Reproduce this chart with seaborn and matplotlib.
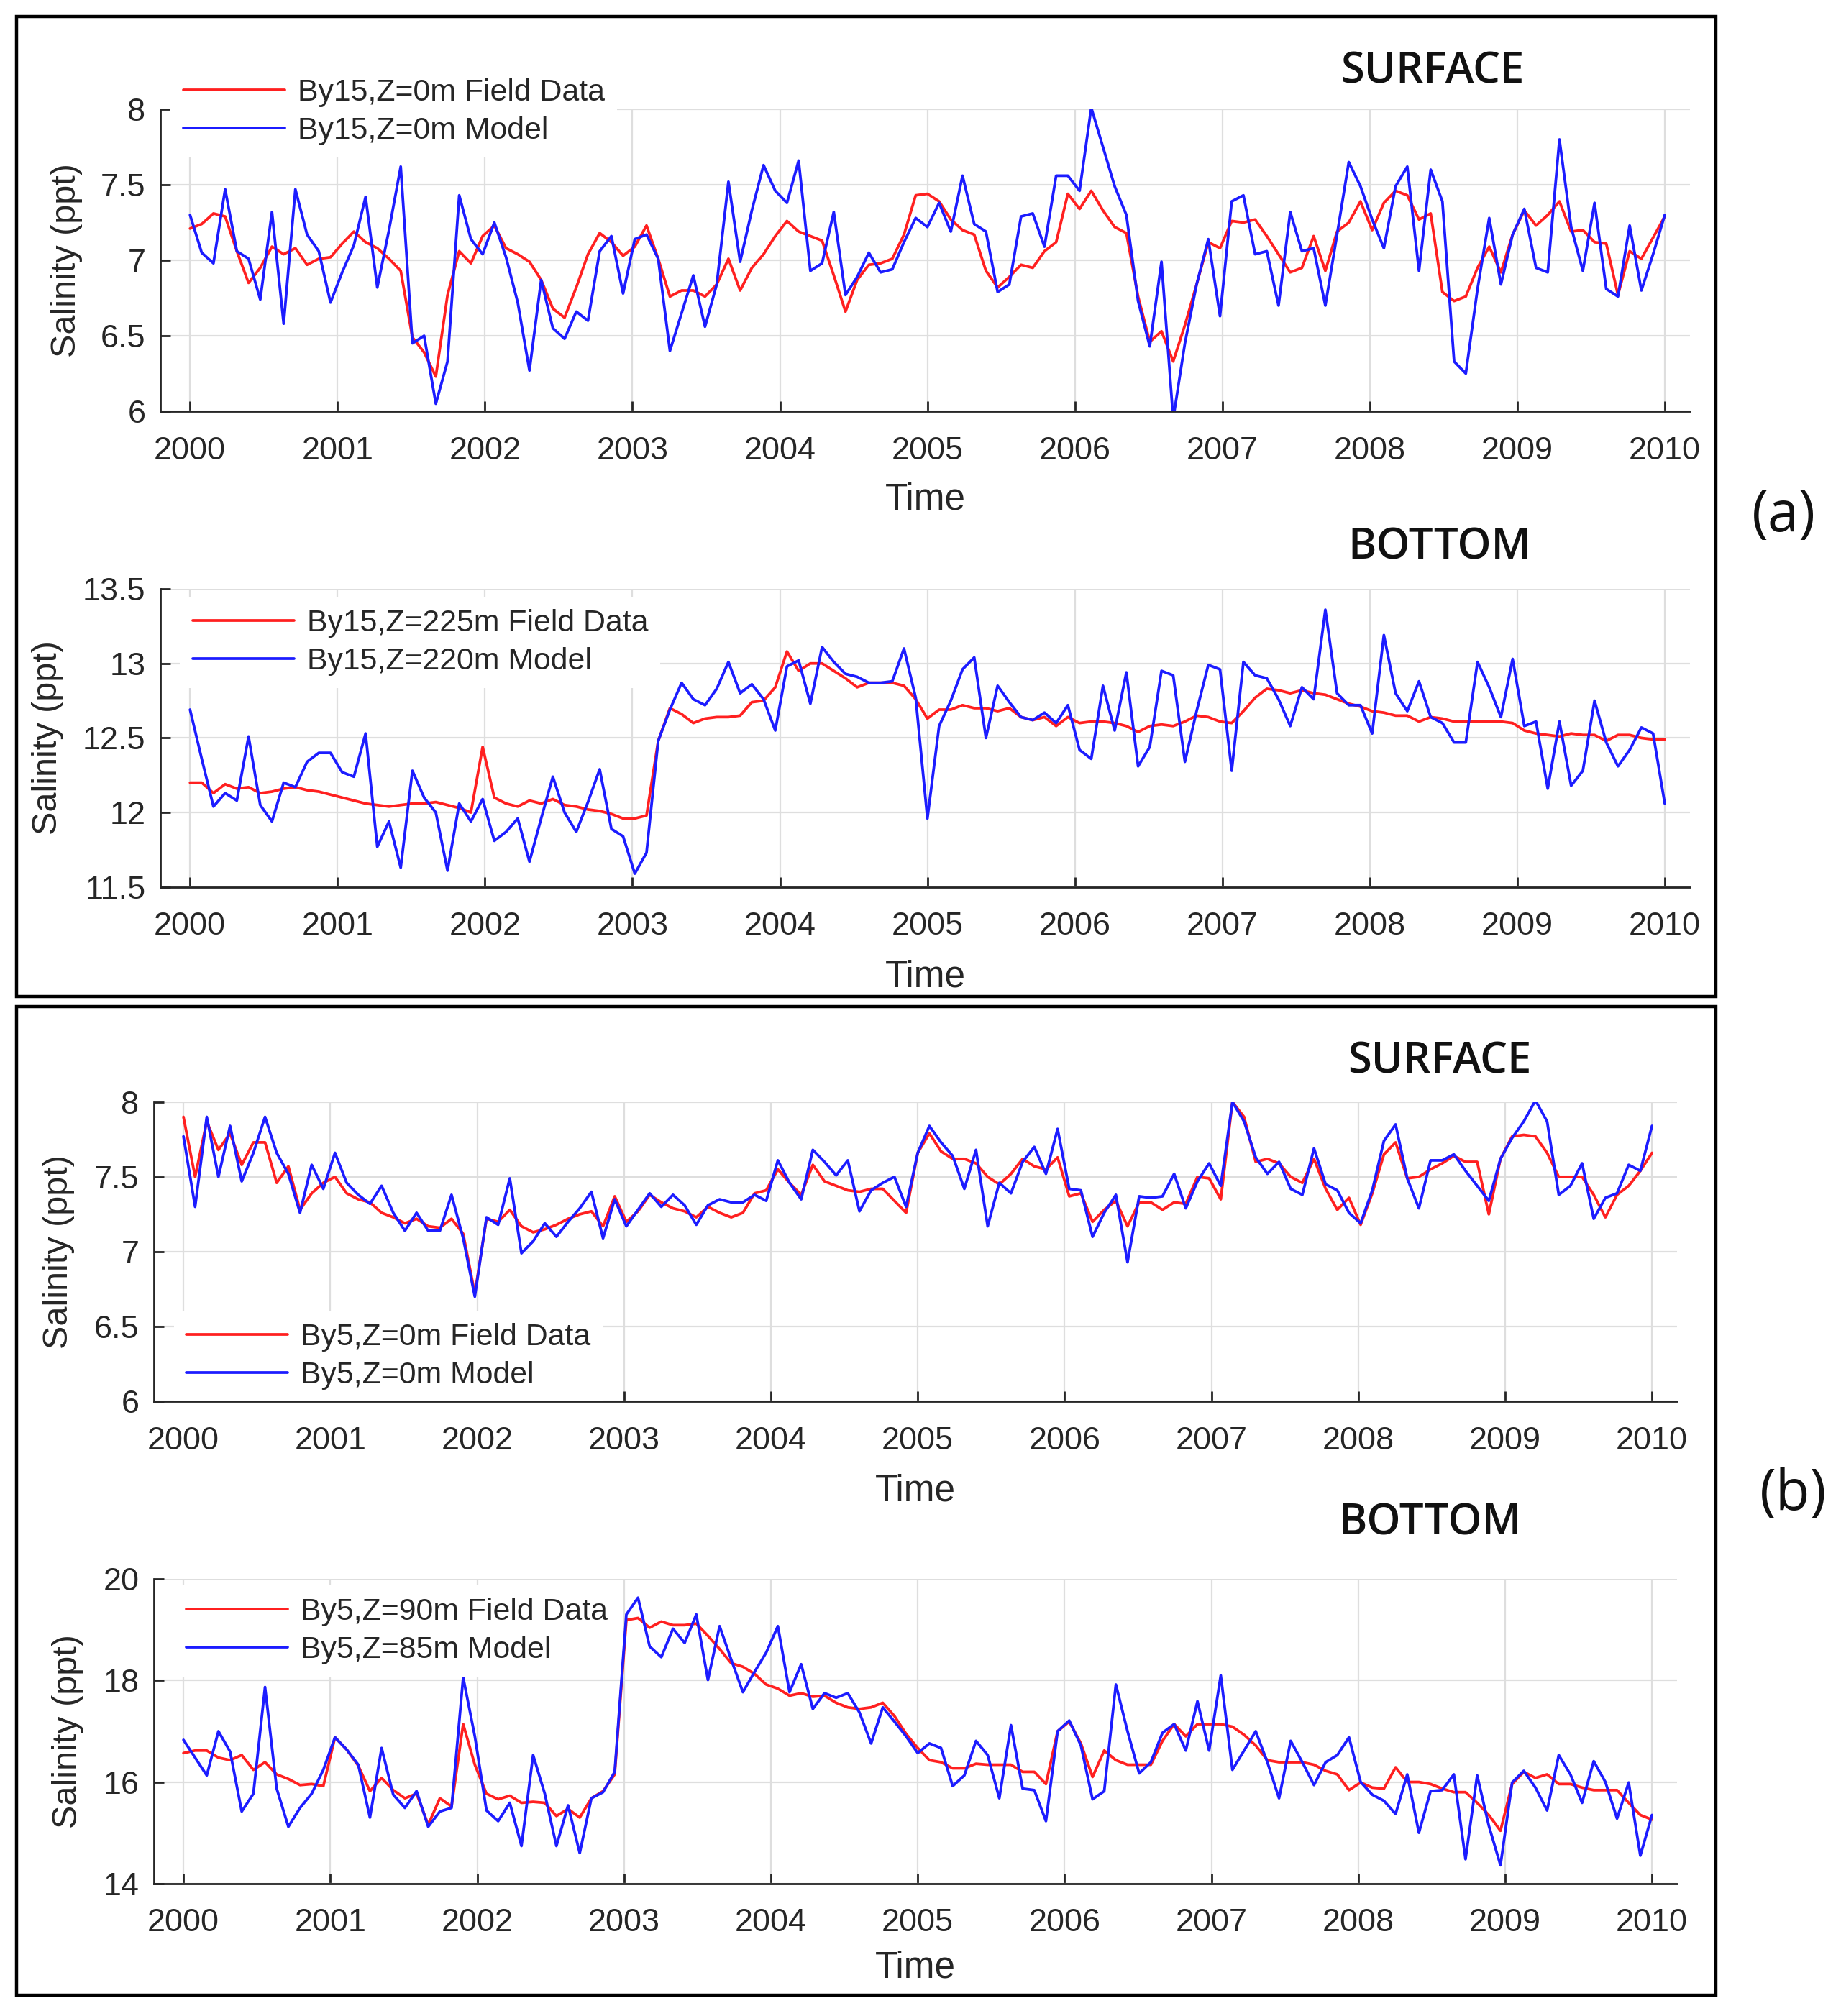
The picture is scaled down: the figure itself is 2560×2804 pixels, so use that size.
import numpy as np
import pandas as pd
import matplotlib
matplotlib.use('Agg')
from matplotlib import pyplot as plt
from matplotlib.patches import Rectangle
from matplotlib.ticker import FormatStrFormatter
import seaborn as sns

# ---- (a) By15 surface ----
by15_surf_field = [7.21, 7.24, 7.31, 7.29, 7.06, 6.85, 6.95, 7.09, 7.04, 7.08, 6.97, 7.01, 7.02,
                   7.11, 7.19, 7.12, 7.08, 7.01, 6.93, 6.49, 6.39, 6.23, 6.77, 7.06, 6.98,
                   7.16, 7.23, 7.08, 7.04, 6.99, 6.87, 6.68, 6.62, 6.82, 7.04, 7.18, 7.12,
                   7.03, 7.09, 7.23, 7.01, 6.76, 6.80, 6.80, 6.76, 6.84, 7.01, 6.80, 6.95, 7.04,
                   7.16, 7.26, 7.19, 7.16, 7.13, 6.90, 6.66, 6.87, 6.97, 6.98, 7.01, 7.17, 7.43, 7.44,
                   7.39, 7.27, 7.20, 7.17, 6.93, 6.82, 6.89, 6.97, 6.95, 7.06, 7.12, 7.44, 7.34,
                   7.46, 7.33, 7.22, 7.18, 6.76, 6.46, 6.53, 6.33, 6.57, 6.84, 7.12, 7.08, 7.26,
                   7.25, 7.27, 7.16, 7.04, 6.92, 6.95, 7.16, 6.93, 7.19, 7.25, 7.39, 7.20, 7.38,
                   7.46, 7.43, 7.27, 7.31, 6.79, 6.73, 6.76, 6.95, 7.09, 6.92, 7.17, 7.33, 7.23,
                   7.30, 7.39, 7.19, 7.20, 7.12, 7.11, 6.77, 7.06, 7.01, 7.15, 7.29]
by15_surf_model = [7.30, 7.05, 6.98, 7.47, 7.06, 7.01, 6.74, 7.32, 6.58, 7.47, 7.17, 7.06, 6.72,
                   6.92, 7.10, 7.42, 6.82, 7.20, 7.62, 6.45, 6.50, 6.05, 6.33, 7.43, 7.14,
                   7.04, 7.25, 7.02, 6.72, 6.27, 6.87, 6.55, 6.48, 6.66, 6.60, 7.06, 7.16,
                   6.78, 7.14, 7.17, 7.01, 6.40, 6.65, 6.90, 6.56, 6.84, 7.52, 6.99, 7.33,
                   7.63, 7.46, 7.38, 7.66, 6.93, 6.98, 7.32, 6.77, 6.89, 7.05, 6.92, 6.94, 7.12, 7.28, 7.22,
                   7.38, 7.19, 7.56, 7.24, 7.19, 6.79, 6.84, 7.29, 7.31, 7.09, 7.56, 7.56, 7.46,
                   8.01, 7.75, 7.49, 7.30, 6.73, 6.43, 6.99, 5.95, 6.45, 6.84, 7.14, 6.63, 7.39,
                   7.43, 7.04, 7.06, 6.70, 7.32, 7.06, 7.08, 6.70, 7.17, 7.65, 7.49, 7.27, 7.08,
                   7.49, 7.62, 6.93, 7.60, 7.39, 6.33, 6.25, 6.81, 7.28, 6.84, 7.17, 7.34, 6.95,
                   6.92, 7.80, 7.22, 6.93, 7.38, 6.81, 6.76, 7.23, 6.80, 7.04, 7.30]

# ---- (a) By15 bottom ----
by15_bot_field = [12.20, 12.20, 12.13, 12.19, 12.16, 12.17, 12.13, 12.14, 12.16, 12.17,
                  12.15, 12.14, 12.12, 12.10, 12.08, 12.06, 12.05, 12.04, 12.05, 12.06,
                  12.06, 12.07, 12.05, 12.03, 12.00, 12.44, 12.10, 12.06, 12.04, 12.08,
                  12.06, 12.09, 12.05, 12.04, 12.02, 12.01, 11.99, 11.96, 11.96, 11.98,
                  12.48, 12.70, 12.66, 12.60, 12.63, 12.64, 12.64, 12.65, 12.74, 12.75,
                  12.84, 13.08, 12.95, 13.00, 13.00, 12.95, 12.90, 12.84, 12.87, 12.87,
                  12.87, 12.85, 12.76, 12.63,
                  12.69, 12.69, 12.72, 12.70, 12.70, 12.68, 12.70, 12.64, 12.62, 12.64,
                  12.58, 12.64, 12.60, 12.61, 12.61, 12.60, 12.58, 12.54, 12.58, 12.59,
                  12.58, 12.61, 12.65, 12.64, 12.61, 12.60, 12.68, 12.77, 12.83, 12.82,
                  12.80, 12.82, 12.80, 12.79, 12.76, 12.73, 12.71, 12.68, 12.67, 12.65,
                  12.65, 12.61, 12.64, 12.63, 12.61, 12.61, 12.61, 12.61, 12.61, 12.60,
                  12.55, 12.53, 12.52, 12.51, 12.53, 12.52, 12.52, 12.48, 12.52, 12.52,
                  12.50, 12.49, 12.49]
by15_bot_model = [12.69, 12.36, 12.04, 12.13, 12.08, 12.51, 12.05, 11.94, 12.20, 12.17,
                  12.34, 12.40, 12.40, 12.27, 12.24, 12.53, 11.77, 11.94, 11.63, 12.28,
                  12.10, 12.00, 11.61, 12.06, 11.94, 12.09, 11.81, 11.87, 11.96, 11.67,
                  11.96, 12.24, 12.00, 11.87, 12.07, 12.29, 11.89, 11.84, 11.59, 11.73,
                  12.48, 12.69, 12.87, 12.76, 12.72, 12.83, 13.01, 12.80, 12.86, 12.76,
                  12.55, 12.98, 13.02, 12.73, 13.11, 13.01, 12.93, 12.91, 12.87, 12.87,
                  12.88, 13.10, 12.77, 11.96,
                  12.58, 12.75, 12.96, 13.04, 12.50, 12.85, 12.74, 12.64, 12.62, 12.67,
                  12.60, 12.72, 12.42, 12.36, 12.85, 12.55, 12.94, 12.31, 12.44, 12.95,
                  12.92, 12.34, 12.68, 12.99, 12.96, 12.28, 13.01, 12.92, 12.90, 12.76,
                  12.58, 12.84, 12.76, 13.36, 12.80, 12.72, 12.72, 12.53, 13.19, 12.80,
                  12.68, 12.88, 12.64, 12.60, 12.47, 12.47, 13.01, 12.84, 12.64, 13.03,
                  12.58, 12.61, 12.16, 12.61, 12.18, 12.28, 12.75, 12.47, 12.31, 12.42,
                  12.57, 12.53, 12.06]

# ---- (b) By5 surface ----
by5_surf_field = [7.90, 7.50, 7.87, 7.68, 7.79, 7.58, 7.73, 7.73, 7.46, 7.57,
                  7.28, 7.39, 7.46, 7.50, 7.39, 7.35, 7.33, 7.26, 7.23, 7.19,
                  7.22, 7.17, 7.16, 7.22, 7.12, 6.72, 7.22, 7.20, 7.28, 7.17,
                  7.13, 7.15, 7.18, 7.22, 7.25, 7.27, 7.17, 7.37, 7.20, 7.27,
                  7.38, 7.33, 7.29, 7.27, 7.23, 7.30, 7.26, 7.23, 7.26, 7.39,
                  7.41, 7.55, 7.46, 7.38, 7.58, 7.47, 7.44, 7.41, 7.40, 7.42,
                  7.42, 7.34, 7.26, 7.66,
                  7.79, 7.67, 7.62, 7.62, 7.59, 7.50, 7.45, 7.52, 7.62, 7.57,
                  7.55, 7.63, 7.37, 7.39, 7.20, 7.28, 7.34, 7.17, 7.33, 7.33,
                  7.28, 7.33, 7.32, 7.50, 7.49, 7.35, 8.00, 7.90, 7.60, 7.62,
                  7.59, 7.50, 7.46, 7.62, 7.42, 7.28, 7.36, 7.18, 7.39, 7.65,
                  7.73, 7.49, 7.50, 7.55, 7.59, 7.64, 7.60, 7.60, 7.25, 7.62,
                  7.77, 7.78, 7.77, 7.66, 7.50, 7.50, 7.50, 7.38, 7.23, 7.38,
                  7.44, 7.54, 7.66]
by5_surf_model = [7.77, 7.30, 7.90, 7.50, 7.84, 7.47, 7.66, 7.90, 7.66, 7.52,
                  7.26, 7.58, 7.42, 7.66, 7.46, 7.38, 7.32, 7.44, 7.26, 7.14,
                  7.26, 7.14, 7.14, 7.38, 7.09, 6.70, 7.23, 7.18, 7.49, 6.99,
                  7.07, 7.19, 7.10, 7.20, 7.29, 7.40, 7.09, 7.35, 7.17, 7.28,
                  7.39, 7.30, 7.38, 7.31, 7.18, 7.31, 7.35, 7.33, 7.33, 7.38,
                  7.34, 7.61, 7.46, 7.35, 7.68, 7.60, 7.51, 7.61, 7.27, 7.41,
                  7.46, 7.50, 7.30, 7.66,
                  7.84, 7.73, 7.64, 7.42, 7.68, 7.17, 7.46, 7.39, 7.60, 7.70,
                  7.52, 7.82, 7.42, 7.41, 7.10, 7.26, 7.38, 6.93, 7.37, 7.36,
                  7.37, 7.52, 7.29, 7.47, 7.59, 7.44, 8.00, 7.87, 7.63, 7.52,
                  7.60, 7.42, 7.38, 7.69, 7.45, 7.41, 7.26, 7.19, 7.41, 7.74,
                  7.85, 7.49, 7.29, 7.61, 7.61, 7.65, 7.54, 7.44, 7.34, 7.62,
                  7.76, 7.87, 8.01, 7.87, 7.38, 7.44, 7.59, 7.22, 7.36, 7.39,
                  7.58, 7.54, 7.84]

# ---- (b) By5 bottom ----
by5_bot_field = [16.57, 16.62, 16.62, 16.48, 16.43, 16.53, 16.24, 16.39, 16.15, 16.06,
                 15.94, 15.96, 15.92, 16.88, 16.64, 16.32, 15.82, 16.08, 15.84, 15.68,
                 15.77, 15.16, 15.68, 15.52, 17.14, 16.34, 15.77, 15.66, 15.73, 15.59,
                 15.61, 15.59, 15.33, 15.47, 15.30, 15.68, 15.82, 16.15, 19.19, 19.23,
                 19.04, 19.16, 19.09, 19.09, 19.12, 18.88, 18.62, 18.34, 18.27, 18.13,
                 17.92, 17.84, 17.70, 17.75, 17.68, 17.70, 17.56, 17.47, 17.44, 17.47,
                 17.56, 17.30, 16.95, 16.67,
                 16.43, 16.39, 16.27, 16.27, 16.36, 16.34, 16.34, 16.34, 16.20, 16.20,
                 15.96, 17.00, 17.19, 16.76, 16.10, 16.62, 16.43, 16.34, 16.34, 16.34,
                 16.81, 17.14, 16.90, 17.14, 17.14, 17.14, 17.09, 16.93, 16.72, 16.43,
                 16.39, 16.39, 16.39, 16.34, 16.22, 16.15, 15.84, 15.99, 15.89, 15.87,
                 16.29, 16.00, 16.00, 15.96, 15.87, 15.80, 15.80, 15.59, 15.35, 15.04,
                 15.96, 16.20, 16.08, 16.15, 15.96, 15.96, 15.89, 15.84, 15.84, 15.84,
                 15.59, 15.35, 15.26]
by5_bot_model = [16.83, 16.48, 16.13, 17.00, 16.60, 15.42, 15.77, 17.87, 15.87, 15.12,
                 15.49, 15.77, 16.24, 16.88, 16.64, 16.34, 15.30, 16.67, 15.75, 15.49,
                 15.82, 15.12, 15.42, 15.49, 18.06, 16.90, 15.44, 15.23, 15.59, 14.74,
                 16.53, 15.77, 14.74, 15.54, 14.60, 15.68, 15.80, 16.20, 19.30, 19.63,
                 18.67, 18.46, 19.02, 18.74, 19.30, 18.01, 19.07, 18.41, 17.77, 18.17,
                 18.55, 19.07, 17.77, 18.32, 17.44, 17.75, 17.66, 17.75, 17.37, 16.76,
                 17.47, 17.19, 16.90, 16.57,
                 16.76, 16.67, 15.92, 16.13, 16.81, 16.53, 15.68, 17.12, 15.87, 15.84,
                 15.23, 17.00, 17.21, 16.72, 15.66, 15.82, 17.92, 17.00, 16.17, 16.39,
                 16.97, 17.14, 16.62, 17.59, 16.62, 18.10, 16.24, 16.62, 17.00, 16.39,
                 15.68, 16.81, 16.39, 15.94, 16.39, 16.53, 16.88, 16.00, 15.75, 15.63,
                 15.37, 16.15, 15.00, 15.82, 15.84, 16.15, 14.48, 16.13, 15.14, 14.36,
                 15.99, 16.22, 15.89, 15.44, 16.53, 16.15, 15.59, 16.41, 16.00, 15.28,
                 15.99, 14.55, 15.35]

years = list(range(2000, 2011))

RED = '#ff2020'
BLUE = '#1c1cff'
INK = '#262626'

sns.set_theme(style='white')
plt.rcParams['font.family'] = ['Liberation Sans', 'DejaVu Sans']


def make_panel(fig, rect, field, model, labels, ylim, yticks, leg_xy, ylab_x, time_y):
    ax = fig.add_axes(rect)
    df = pd.concat([
        pd.DataFrame({'t': np.linspace(2000, 2010, len(field)), 's': field, 'k': labels[0]}),
        pd.DataFrame({'t': np.linspace(2000, 2010, len(model)), 's': model, 'k': labels[1]}),
    ])
    sns.lineplot(data=df, x='t', y='s', hue='k', palette=[RED, BLUE],
                 linewidth=1.35, ax=ax, estimator=None)
    ax.set_xlim(1999.8, 2010.17)
    ax.set_ylim(*ylim)
    ax.set_xticks(years)
    ax.set_yticks(yticks)
    ax.yaxis.set_major_formatter(FormatStrFormatter('%g'))
    ax.grid(True, color='#dedede', lw=0.8)
    ax.set_axisbelow(True)
    for s in ['top', 'right']:
        ax.spines[s].set_visible(False)
    for s in ['left', 'bottom']:
        ax.spines[s].set_color(INK)
        ax.spines[s].set_linewidth(1.0)
    ax.tick_params(direction='in', length=5, width=1, colors=INK, labelsize=16.2,
                   bottom=True, left=True, top=False, right=False)
    ax.tick_params(axis='x', pad=12.5)
    ax.tick_params(axis='y', pad=7.5)
    ax.set_xlabel('Time', fontsize=18.5, color=INK)
    ax.xaxis.set_label_coords(0.5, time_y)
    ax.set_ylabel('Salinity (ppt)', fontsize=17.5, color=INK)
    ax.yaxis.set_label_coords(ylab_x, 0.5)
    leg = ax.legend(loc='center left', bbox_to_anchor=leg_xy, frameon=True,
                    facecolor='white', edgecolor='none', framealpha=1, fancybox=False,
                    fontsize=15.4, handlelength=3.3, handletextpad=0.42,
                    labelspacing=0.3, borderpad=0.4, borderaxespad=0)
    # keep the white legend box under the spines and tick marks
    leg.set_zorder(2.4)
    for txt in leg.get_texts():
        txt.set_color(INK)
    for ln in leg.get_lines():
        ln.set_linewidth(1.35)
    return ax


fig = plt.figure(figsize=(12.8, 14.02), dpi=200)

make_panel(fig, [0.0872, 0.796, 0.8307, 0.1498], by15_surf_field, by15_surf_model,
           ['By15,Z=0m Field Data', 'By15,Z=0m Model'], (6, 8), [6, 6.5, 7, 7.5, 8],
           (0.0067, 0.991), -0.051, -0.234)
make_panel(fig, [0.0872, 0.560, 0.8307, 0.1479], by15_bot_field, by15_bot_model,
           ['By15,Z=225m Field Data', 'By15,Z=220m Model'], (11.5, 13.5),
           [11.5, 12, 12.5, 13, 13.5], (0.0128, 0.821), -0.063, -0.242)
make_panel(fig, [0.0837, 0.3048, 0.8272, 0.1486], by5_surf_field, by5_surf_model,
           ['By5,Z=0m Field Data', 'By5,Z=0m Model'], (6, 8), [6, 6.5, 7, 7.5, 8],
           (0.013, 0.150), -0.052, -0.24)
make_panel(fig, [0.0837, 0.0657, 0.8272, 0.1511], by5_bot_field, by5_bot_model,
           ['By5,Z=90m Field Data', 'By5,Z=85m Model'], (14, 20), [14, 16, 18, 20],
           (0.013, 0.829), -0.046, -0.219)

title_kw = dict(fontsize=21.5, fontweight='semibold', family=['Open Sans', 'DejaVu Sans'],
                color='#111111', ha='center', va='center')
fig.text(0.778, 0.9642, 'SURFACE', **title_kw)
fig.text(0.782, 0.7283, 'BOTTOM', **title_kw)
fig.text(0.782, 0.4732, 'SURFACE', **title_kw)
fig.text(0.777, 0.2443, 'BOTTOM', **title_kw)

tag_kw = dict(fontsize=28, family=['Open Sans', 'DejaVu Sans'], color='#111111',
              ha='center', va='center')
fig.text(0.969, 0.7437, '(a)', **tag_kw)
fig.text(0.974, 0.2583, '(b)', **tag_kw)

for y0, h in [(0.5057, 0.4860), (0.0102, 0.4904)]:
    fig.add_artist(Rectangle((0.009, y0), 0.923, h, transform=fig.transFigure,
                             fill=False, ec='black', lw=1.6))

fig.savefig('out.png', dpi=200, facecolor='white')
